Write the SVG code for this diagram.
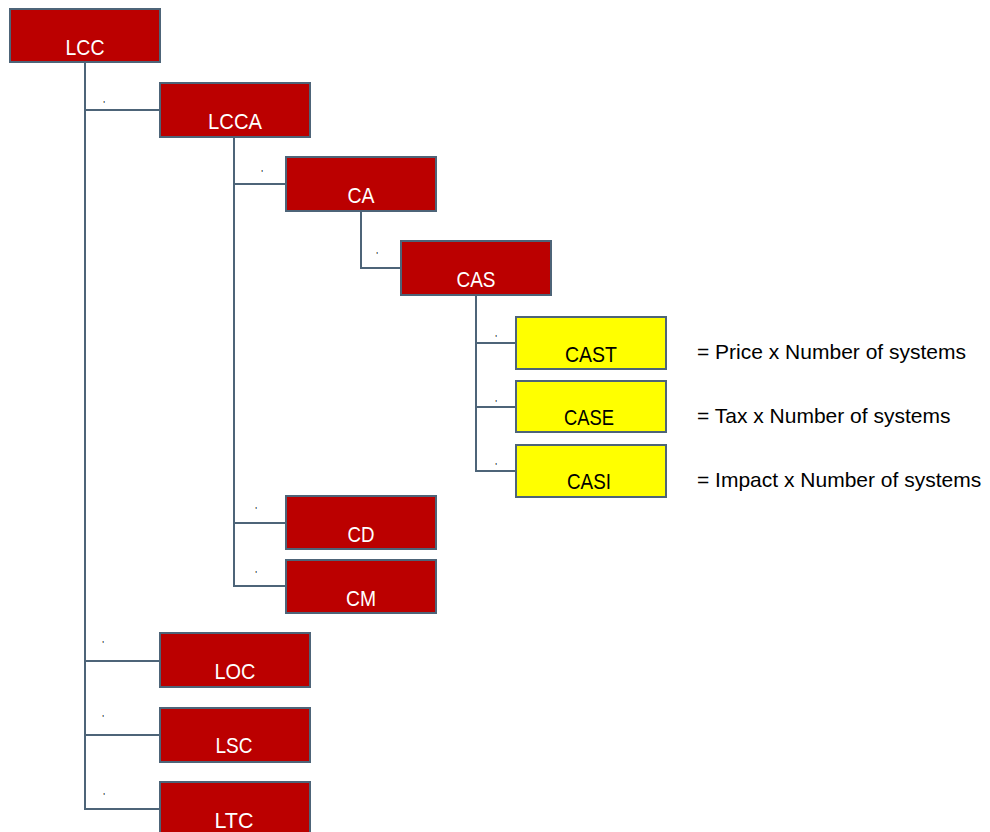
<svg xmlns="http://www.w3.org/2000/svg" width="990" height="832" viewBox="0 0 990 832">
<style>
.r{fill:#bb0000;stroke:#4d6478;stroke-width:2}
.y{fill:#ffff00;stroke:#4d6478;stroke-width:2}
.tw{fill:#ffffff;font-family:"Liberation Sans",Arial,sans-serif;font-size:22px;text-anchor:middle}
.tb{fill:#000000;font-family:"Liberation Sans",Arial,sans-serif;font-size:22px;text-anchor:middle}
.f{fill:#000000;font-family:"Liberation Sans",Arial,sans-serif;font-size:21px}
.m{fill:#000000;font-family:"Liberation Sans",Arial,sans-serif;font-size:9px;text-anchor:middle}
.c{fill:none;stroke:#4d6478;stroke-width:2}
</style>
<rect width="990" height="832" fill="#ffffff"/>
<g id="connectors">
<polyline class="c" points="85,62 85,809 160,809"/>
<line class="c" x1="85" y1="110" x2="160" y2="110"/>
<line class="c" x1="85" y1="661" x2="160" y2="661"/>
<line class="c" x1="85" y1="735" x2="160" y2="735"/>
<polyline class="c" points="234,137 234,586 286,586"/>
<line class="c" x1="234" y1="184" x2="286" y2="184"/>
<line class="c" x1="234" y1="523" x2="286" y2="523"/>
<polyline class="c" points="361,211 361,268 401,268"/>
<polyline class="c" points="476,295 476,471 516,471"/>
<line class="c" x1="476" y1="343" x2="516" y2="343"/>
<line class="c" x1="476" y1="407" x2="516" y2="407"/>
<text class="m" x="104" y="107">'</text>
<text class="m" x="262" y="176">'</text>
<text class="m" x="377" y="258">'</text>
<text class="m" x="496" y="341">'</text>
<text class="m" x="496" y="406">'</text>
<text class="m" x="496" y="469">'</text>
<text class="m" x="256" y="513">'</text>
<text class="m" x="256" y="577">'</text>
<text class="m" x="103" y="647">'</text>
<text class="m" x="103" y="721">'</text>
<text class="m" x="104" y="799">'</text>
</g>
<g id="LCC"><rect class="r" x="10" y="9" width="150" height="53"/><text class="tw" x="85" y="55" textLength="39" lengthAdjust="spacingAndGlyphs">LCC</text></g>
<g id="LCCA"><rect class="r" x="160" y="83" width="150" height="54"/><text class="tw" x="235" y="129" textLength="54" lengthAdjust="spacingAndGlyphs">LCCA</text></g>
<g id="CA"><rect class="r" x="286" y="157" width="150" height="54"/><text class="tw" x="361" y="203" textLength="27" lengthAdjust="spacingAndGlyphs">CA</text></g>
<g id="CAS"><rect class="r" x="401" y="241" width="150" height="54"/><text class="tw" x="476" y="287" textLength="39" lengthAdjust="spacingAndGlyphs">CAS</text></g>
<g id="CAST"><rect class="y" x="516" y="317" width="150" height="52"/><text class="tb" x="591" y="362" textLength="52" lengthAdjust="spacingAndGlyphs">CAST</text></g>
<g id="CASE"><rect class="y" x="516" y="381" width="150" height="51"/><text class="tb" x="589" y="425" textLength="50" lengthAdjust="spacingAndGlyphs">CASE</text></g>
<g id="CASI"><rect class="y" x="516" y="445" width="150" height="52"/><text class="tb" x="589" y="489" textLength="44" lengthAdjust="spacingAndGlyphs">CASI</text></g>
<g id="CD"><rect class="r" x="286" y="496" width="150" height="53"/><text class="tw" x="361" y="542" textLength="27" lengthAdjust="spacingAndGlyphs">CD</text></g>
<g id="CM"><rect class="r" x="286" y="560" width="150" height="53"/><text class="tw" x="361" y="606" textLength="30" lengthAdjust="spacingAndGlyphs">CM</text></g>
<g id="LOC"><rect class="r" x="160" y="633" width="150" height="54"/><text class="tw" x="235" y="679" textLength="41" lengthAdjust="spacingAndGlyphs">LOC</text></g>
<g id="LSC"><rect class="r" x="160" y="708" width="150" height="54"/><text class="tw" x="234" y="753" textLength="37" lengthAdjust="spacingAndGlyphs">LSC</text></g>
<g id="LTC"><rect class="r" x="160" y="782" width="150" height="60"/><text class="tw" x="234" y="828" textLength="39" lengthAdjust="spacingAndGlyphs">LTC</text></g>
<g id="formulas">
<text class="f" x="697" y="359">= Price x Number of systems</text>
<text class="f" x="697" y="423">= Tax x Number of systems</text>
<text class="f" x="697" y="487">= Impact x Number of systems</text>
</g>
</svg>
